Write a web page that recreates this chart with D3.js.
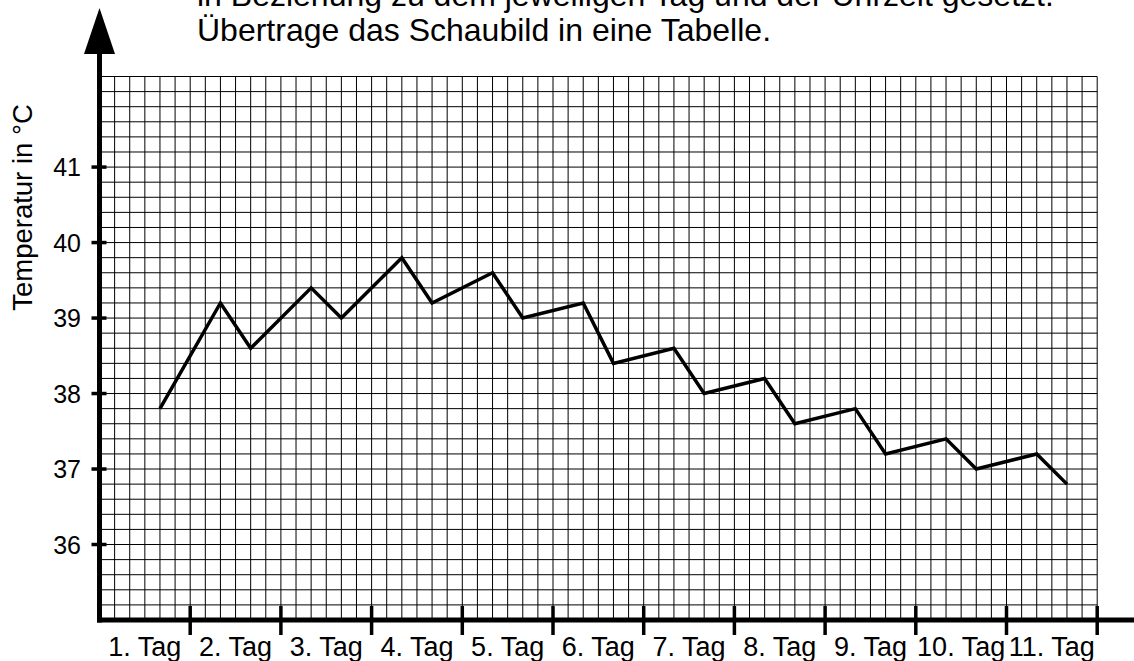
<!DOCTYPE html>
<html>
<head>
<meta charset="utf-8">
<script src="https://cdn.jsdelivr.net/npm/d3@7"></script>
<style>
  html, body { margin: 0; padding: 0; background: #fff; }
  svg { display: block; }
  text { font-family: "Liberation Sans", Arial, Helvetica, sans-serif; fill: #000; }
</style>
</head>
<body>
<svg id="chart" width="1134" height="661"></svg>
<script>
// ---- data ----
const headerLines = [
  "in Beziehung zu dem jeweiligen Tag und der Uhrzeit gesetzt.",
  "Übertrage das Schaubild in eine Tabelle."
];
const dayLabels = ["1. Tag", "2. Tag", "3. Tag", "4. Tag", "5. Tag", "6. Tag",
                   "7. Tag", "8. Tag", "9. Tag", "10. Tag", "11. Tag"];
const pointDay  = [1, 2, 2, 3, 3, 4, 4, 5, 5, 6, 6, 7, 7, 8, 8, 9, 9, 10, 10, 11, 11];
const pointHour = [16, 8, 16, 8, 16, 8, 16, 8, 16, 8, 16, 8, 16, 8, 16, 8, 16, 8, 16, 8, 16];
const temps     = [37.8, 39.2, 38.6, 39.4, 39.0, 39.8, 39.2, 39.6, 39.0, 39.2, 38.4,
                   38.6, 38.0, 38.2, 37.6, 37.8, 37.2, 37.4, 37.0, 37.2, 36.8];
const yTicks = [36, 37, 38, 39, 40, 41];
const yLabel = "Temperatur in °C";
const yDomain = [35, 42.2];

// ---- layout ----
const svg = d3.select("#chart");
const x0 = 99.5, x1 = 1097.2;
const yBottom = 620, yTop = 76.5;

const x = d3.scaleLinear().domain([0, dayLabels.length]).range([x0, x1]);
const y = d3.scaleLinear().domain(yDomain).range([yBottom, yTop]);

// grid
const grid = svg.append("g").attr("stroke", "#000").attr("stroke-width", 1);
const colVals = d3.range(1, dayLabels.length * 6 + 1).map(k => k / 6);
grid.selectAll("line.v").data(colVals).join("line")
  .attr("x1", d => x(d)).attr("x2", d => x(d))
  .attr("y1", y(yDomain[1])).attr("y2", yBottom);
const rowVals = d3.range(1, Math.round((yDomain[1] - yDomain[0]) / 0.2) + 1).map(j => yDomain[0] + j * 0.2);
grid.selectAll("line.h").data(rowVals).join("line")
  .attr("x1", x0).attr("x2", x1)
  .attr("y1", d => y(d)).attr("y2", d => y(d));

// axes
svg.append("line").attr("x1", x0).attr("x2", x0).attr("y1", yBottom + 2.5).attr("y2", 50)
  .attr("stroke", "#000").attr("stroke-width", 5);
svg.append("line").attr("x1", x0 - 2.5).attr("x2", 1134).attr("y1", yBottom).attr("y2", yBottom)
  .attr("stroke", "#000").attr("stroke-width", 5);
// arrow
svg.append("path").attr("d", `M${x0},8 L${x0 - 15.5},54 L${x0 + 15.5},54 Z`).attr("fill", "#000");

// x ticks
svg.selectAll("line.xt").data(d3.range(1, dayLabels.length + 1)).join("line")
  .attr("x1", d => x(d)).attr("x2", d => x(d))
  .attr("y1", 606).attr("y2", 635)
  .attr("stroke", "#000").attr("stroke-width", 3.5);
// x labels
svg.selectAll("text.xl").data(dayLabels).join("text")
  .attr("x", (d, i) => x(i + 0.5)).attr("y", 656)
  .attr("text-anchor", "middle").attr("font-size", 27)
  .text(d => d);

// y ticks
svg.selectAll("line.yt").data(yTicks).join("line")
  .attr("x1", 91.5).attr("x2", 106.5)
  .attr("y1", d => y(d)).attr("y2", d => y(d))
  .attr("stroke", "#000").attr("stroke-width", 3.5);
svg.selectAll("text.yl").data(yTicks).join("text")
  .attr("x", 81).attr("y", d => y(d) + 9)
  .attr("text-anchor", "end").attr("font-size", 25)
  .text(d => d);

// y label
svg.append("text")
  .attr("transform", `translate(32,207.5) rotate(-90)`)
  .attr("text-anchor", "middle").attr("font-size", 27.5)
  .text(yLabel);

// header
svg.selectAll("text.hd").data(headerLines).join("text")
  .attr("x", 197).attr("y", (d, i) => 6 + i * 35)
  .attr("font-size", 32)
  .text(d => d);

// data line
const pts = pointDay.map((d, i) => [x(d - 1 + pointHour[i] / 24), y(temps[i])]);
svg.append("path")
  .attr("d", d3.line()(pts))
  .attr("fill", "none").attr("stroke", "#000").attr("stroke-width", 3.5)
  .attr("stroke-linejoin", "miter");
</script>
</body>
</html>
